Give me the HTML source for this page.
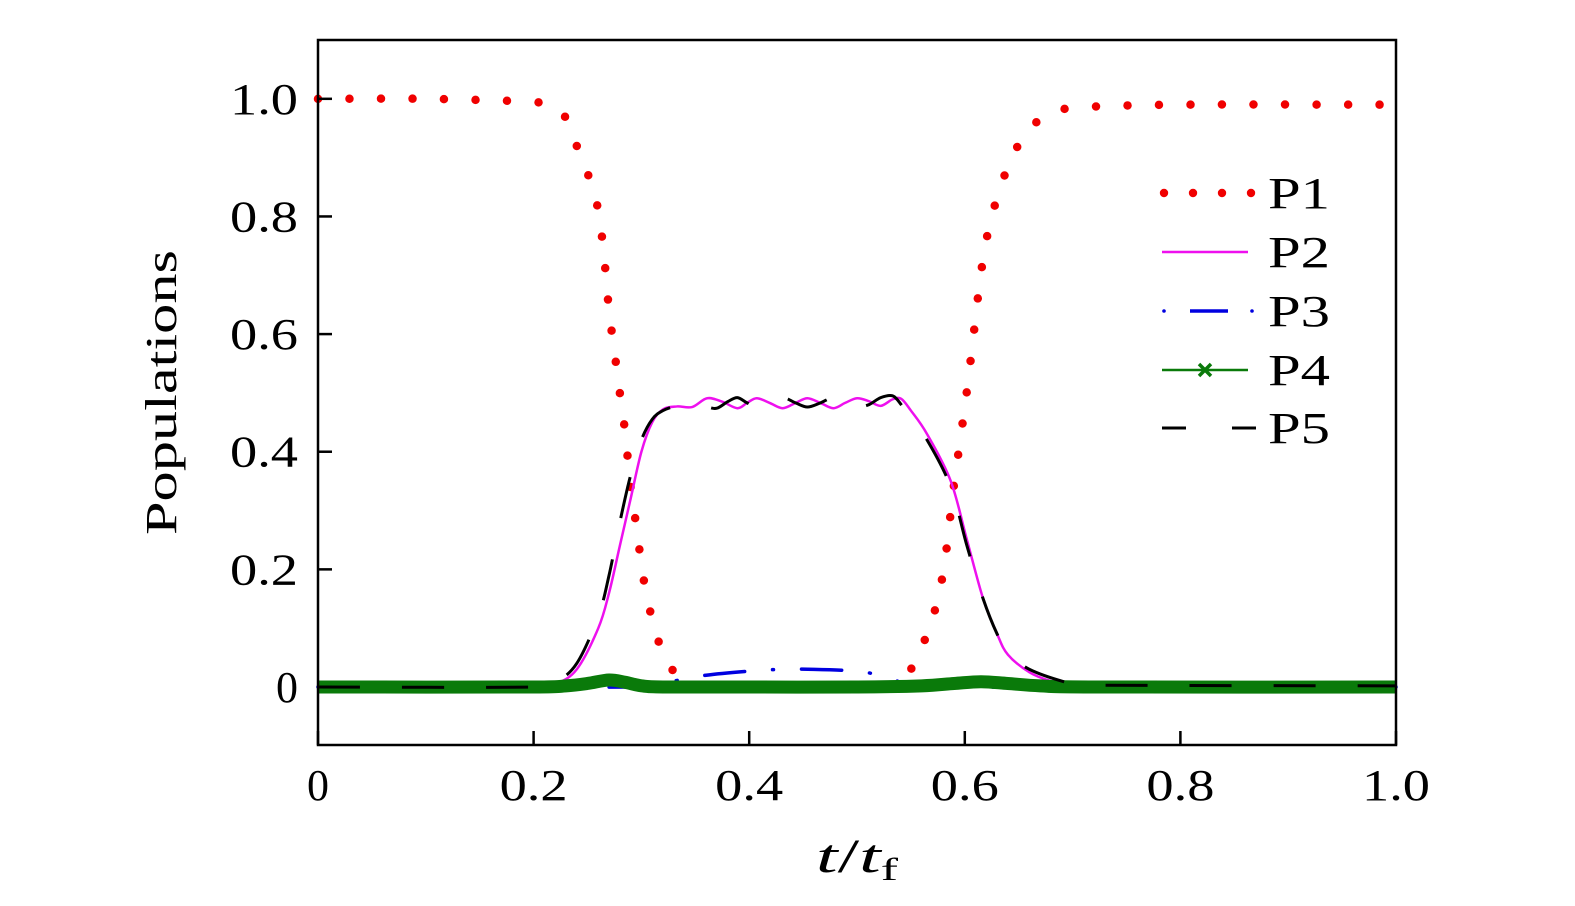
<!DOCTYPE html>
<html><head><meta charset="utf-8"><style>
html,body{margin:0;padding:0;background:#fff;}
svg{display:block;font-family:"Liberation Serif",serif;}
</style></head><body>
<svg id="chart" width="1575" height="906" viewBox="0 0 1575 906" xmlns="http://www.w3.org/2000/svg">
<g id="marks"></g>
<g id="axes"></g>
<g id="legend"></g>
</svg>
<script>
const xTicks=[0,0.2,0.4,0.6,0.8,1.0];
const xTickLabels=["0","0.2","0.4","0.6","0.8","1.0"];
const yTicks=[0,0.2,0.4,0.6,0.8,1.0];
const yTickLabels=["0","0.2","0.4","0.6","0.8","1.0"];
const p1T=[0,0.1,0.2,0.21,0.22,0.229,0.24,0.25,0.26,0.266,0.27,0.275,0.28,0.284,0.287,0.29,0.294,0.298,0.302,0.308,0.315,0.327,0.34,0.36,0.5,0.535,0.55,0.565,0.575,0.582,0.589,0.595,0.601,0.607,0.612,0.618,0.625,0.635,0.645,0.66,0.684,0.713,0.8,1.0];
const p1V=[1,1,0.995,0.99,0.985,0.97,0.92,0.874,0.81,0.72,0.64,0.57,0.5,0.447,0.395,0.34,0.29,0.236,0.184,0.13,0.082,0.034,0.01,0,0,0.005,0.03,0.09,0.15,0.22,0.33,0.41,0.49,0.58,0.66,0.74,0.8,0.86,0.905,0.95,0.978,0.986,0.99,0.99];
const p2T=[0,0.2,0.22,0.24,0.26,0.27,0.28,0.29,0.3,0.31,0.32,0.333,0.347,0.361,0.375,0.389,0.398,0.407,0.419,0.431,0.443,0.454,0.466,0.478,0.489,0.5,0.511,0.522,0.533,0.541,0.55,0.565,0.587,0.602,0.617,0.63,0.64,0.66,0.68,0.7,0.72,1.0];
const p2V=[0,0,0.005,0.03,0.1,0.16,0.24,0.32,0.4,0.45,0.472,0.477,0.476,0.491,0.485,0.474,0.483,0.491,0.483,0.474,0.483,0.491,0.483,0.474,0.483,0.491,0.486,0.478,0.489,0.49,0.47,0.43,0.35,0.25,0.15,0.09,0.055,0.025,0.01,0.003,0,0];
const p5T=[0,0.2,0.22,0.24,0.26,0.27,0.28,0.29,0.3,0.31,0.32,0.333,0.347,0.361,0.37,0.38,0.389,0.398,0.407,0.419,0.431,0.443,0.454,0.466,0.478,0.489,0.5,0.511,0.522,0.533,0.541,0.55,0.565,0.587,0.602,0.617,0.63,0.64,0.66,0.7,0.72,1.0];
const p5V=[0,0,0.008,0.04,0.12,0.19,0.28,0.36,0.42,0.455,0.47,0.478,0.482,0.476,0.474,0.485,0.492,0.483,0.476,0.483,0.492,0.483,0.476,0.483,0.492,0.483,0.476,0.48,0.492,0.495,0.48,0.455,0.42,0.34,0.24,0.15,0.09,0.06,0.03,0.005,0.003,0.002];
const p3T=[0,0.3,0.31,0.33,0.36,0.4,0.43,0.46,0.5,0.52,0.535,0.545,0.55,1.0];
const p3V=[0,0,0.002,0.01,0.02,0.027,0.03,0.03,0.027,0.02,0.012,0.003,0,0];
const p4T=[0,0.2,0.23,0.25,0.27,0.285,0.3,0.32,0.4,0.5,0.56,0.59,0.615,0.64,0.67,0.72,1.0];
const p4V=[0,0,0.002,0.006,0.012,0.008,0.002,0,0,0,0.002,0.006,0.009,0.006,0.002,0,0];

const L=318,R=1396,T=40,B=745;
const X=v=>L+(v-0)/(1-0)*(R-L);
const Y=v=>B-(v-(-0.0986))/(1.1-(-0.0986))*(B-T);
const NS="http://www.w3.org/2000/svg";
function mk(tag,attrs,parent){const e=document.createElementNS(NS,tag);for(const k in attrs)e.setAttribute(k,attrs[k]);parent.appendChild(e);return e;}
function pathD(ts,vs){
  const pts=ts.map((t,i)=>[X(t),Y(vs[i])]);
  let d="M"+pts[0][0].toFixed(2)+","+pts[0][1].toFixed(2);
  for(let i=0;i<pts.length-1;i++){
    const p0=pts[Math.max(0,i-1)],p1=pts[i],p2=pts[i+1],p3=pts[Math.min(pts.length-1,i+2)];
    const k=1/6;
    const c1=[p1[0]+(p2[0]-p0[0])*k,p1[1]+(p2[1]-p0[1])*k];
    const c2=[p2[0]-(p3[0]-p1[0])*k,p2[1]-(p3[1]-p1[1])*k];
    c1[0]=Math.min(Math.max(c1[0],p1[0]),p2[0]);c2[0]=Math.min(Math.max(c2[0],p1[0]),p2[0]);
    d+=" C"+c1[0].toFixed(2)+","+c1[1].toFixed(2)+" "+c2[0].toFixed(2)+","+c2[1].toFixed(2)+" "+p2[0].toFixed(2)+","+p2[1].toFixed(2);
  }
  return d;
}
const marks=document.getElementById('marks');
let e;
e=mk('path',{d:pathD(p1T,p1V),fill:'none',stroke:'#f00000','stroke-width':8.5,'stroke-dasharray':'0 31.5','stroke-linecap':'round'},marks);


e=mk('path',{d:pathD(p3T,p3V),fill:'none',stroke:'#0000e0','stroke-width':3.5,'stroke-dasharray':'40 28 1 28','stroke-linecap':'round'},marks);


e=mk('path',{d:pathD(p2T,p2V),fill:'none',stroke:'#ee10ee','stroke-width':2.5},marks);


e=mk('path',{d:pathD(p4T,p4V),fill:'none',stroke:'#0a7a0a','stroke-width':13},marks);


e=mk('path',{d:pathD(p5T,p5V),fill:'none',stroke:'#000','stroke-width':3,'stroke-dasharray':'42 42'},marks);



const axes=document.getElementById('axes');
e=mk('rect',{x:L,y:T,width:R-L,height:B-T,fill:'none',stroke:'#000','stroke-width':2.5},axes);


xTicks.forEach((t,i)=>{
  const tk=mk('line',{x1:X(t),x2:X(t),y1:B,y2:B-14,stroke:'#000','stroke-width':2.5},axes);
  
  
  const lab=xTickLabels[i];
  const attrs={x:X(t),y:800,'text-anchor':'middle','font-size':44};
  if(lab.length>1){attrs.textLength=68;attrs.lengthAdjust='spacingAndGlyphs';attrs.x=X(t)-34;attrs['text-anchor']='start';}
  const tx=mk('text',attrs,axes);
  tx.textContent=lab;
  
  
});
yTicks.forEach((v,i)=>{
  const tk=mk('line',{x1:L,x2:L+14,y1:Y(v),y2:Y(v),stroke:'#000','stroke-width':2.5},axes);
  
  
  const lab=yTickLabels[i];
  const attrs={x:298,y:Y(v)+15,'text-anchor':'end','font-size':44};
  if(lab.length>1){attrs.textLength=68;attrs.lengthAdjust='spacingAndGlyphs';attrs.x=230;attrs['text-anchor']='start';}
  const tx=mk('text',attrs,axes);
  tx.textContent=lab;
  
  
});
e=mk('text',{x:0,y:0,'font-size':44,textLength:285,lengthAdjust:'spacingAndGlyphs',transform:'translate(176 535) rotate(-90)'},axes);
e.textContent='Populations';


e=mk('text',{x:816,y:872,'font-size':48,textLength:82,lengthAdjust:'spacingAndGlyphs'},axes);
e.innerHTML='<tspan font-style="italic">t</tspan>/<tspan font-style="italic">t</tspan><tspan font-size="32" dy="8">f</tspan>';



const legend=document.getElementById('legend');
const labels=["P1","P2","P3","P4","P5"];
const ly=[193,252,311,370,428];
const lx1=1162,lx2=1248;
labels.forEach((lab,i)=>{
  const g=mk('g',{},legend);
  
  
  const y=ly[i];
  if(i===0){[1164,1193,1222,1251].forEach(x=>mk('circle',{cx:x,cy:y,r:4.2,fill:'#f00000'},g));}
  if(i===1){mk('line',{x1:lx1,x2:lx2,y1:y,y2:y,stroke:'#ee10ee','stroke-width':2.5},g);}
  if(i===2){mk('circle',{cx:1164,cy:y,r:1.8,fill:'#0000e0'},g);mk('line',{x1:1190,x2:1228,y1:y,y2:y,stroke:'#0000e0','stroke-width':3.5},g);mk('circle',{cx:1252,cy:y,r:1.8,fill:'#0000e0'},g);}
  if(i===3){mk('line',{x1:lx1,x2:lx2,y1:y,y2:y,stroke:'#0a7a0a','stroke-width':2.5},g);mk('path',{d:`M1199,${y-6} l12,12 M1211,${y-6} l-12,12`,stroke:'#0a7a0a','stroke-width':3.5},g);}
  if(i===4){mk('line',{x1:1162,x2:1186,y1:y,y2:y,stroke:'#000','stroke-width':3},g);mk('line',{x1:1232,x2:1256,y1:y,y2:y,stroke:'#000','stroke-width':3},g);}
  const t=mk('text',{x:1268,y:y+15,'font-size':44,textLength:62,lengthAdjust:'spacingAndGlyphs'},g);
  t.textContent=lab;
});
</script>
</body></html>
